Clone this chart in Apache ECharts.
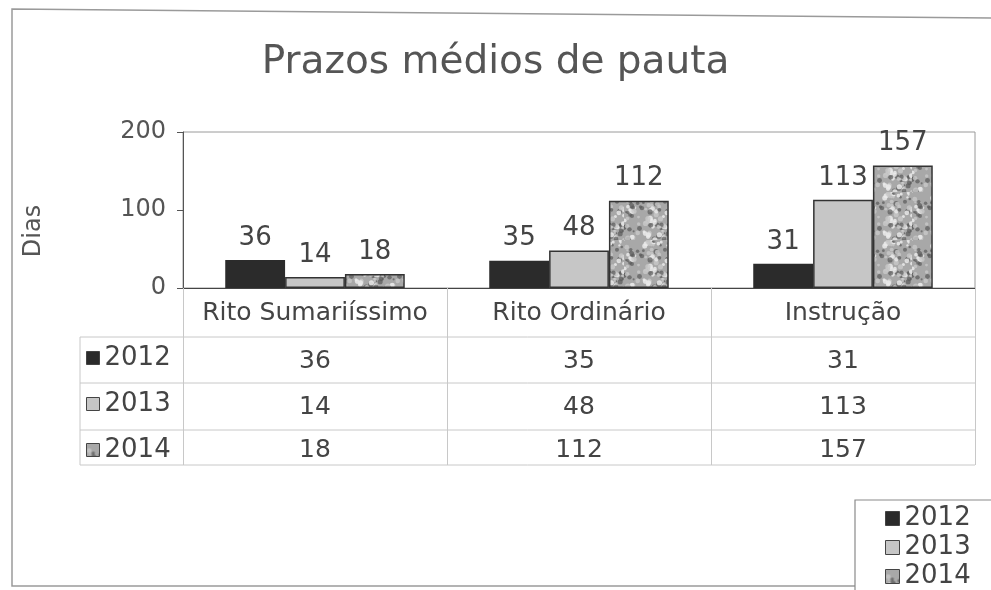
<!DOCTYPE html>
<html><head><meta charset="utf-8">
<script src="https://cdn.jsdelivr.net/npm/echarts@6/dist/echarts.min.js"></script>
<style>html,body{margin:0;padding:0;background:#fff}#c{width:991px;height:590px}</style>
</head><body><div id="c"></div>
<script>
var categories = ['Rito Sumariíssimo', 'Rito Ordinário', 'Instrução'];
var years = ['2012', '2013', '2014'];
var values2012 = [36, 35, 31];
var values2013 = [14, 48, 113];
var values2014 = [18, 112, 157];
var yTicks = [0, 100, 200];
var titleText = 'Prazos médios de pauta';
var yAxisName = 'Dias';

function makeTexture() {
  var c = document.createElement('canvas');
  c.width = 48; c.height = 48;
  var g = c.getContext('2d');
  g.fillStyle = '#a8a8a8';
  g.fillRect(0, 0, 48, 48);
  for (var i = 0; i < 120; i++) {
    var x = (Math.abs(Math.sin(i * 12.9898) * 43758.5453) % 1) * 48;
    var y = (Math.abs(Math.sin(i * 78.233) * 12345.678) % 1) * 48;
    var r = 0.8 + (Math.abs(Math.sin(i * 3.7)) * 1.8);
    g.fillStyle = i % 3 === 0 ? 'rgba(235,235,235,0.85)' : (i % 3 === 1 ? 'rgba(90,90,90,0.7)' : 'rgba(200,200,200,0.8)');
    g.beginPath(); g.arc(x, y, r, 0, Math.PI * 2); g.fill();
  }
  return c;
}
var texture = makeTexture();

var font = 'DejaVu Sans';
var chart = echarts.init(document.getElementById('c'), null, {renderer: 'canvas'});

var labelCfg = {show: true, position: 'top', distance: 9, fontFamily: font, fontSize: 26, color: '#444'};
var seriesColors = ['#2b2b2b', '#c6c6c6', {image: texture, repeat: 'repeat'}];
var seriesData = [values2012, values2013, values2014];

var series = years.map(function (y, i) {
  return {
    name: y, type: 'bar', data: seriesData[i],
    barGap: '0%', barCategoryGap: '32%',
    itemStyle: {color: seriesColors[i], borderColor: '#333', borderWidth: i === 0 ? 0 : 1.5},
    label: labelCfg
  };
});

var legendText = {fontFamily: font, fontSize: 26, color: '#444'};

chart.setOption({
  animation: false,
  backgroundColor: '#fff',
  title: {text: titleText, left: 'center', top: 38,
    textStyle: {fontFamily: font, fontSize: 39, fontWeight: 'normal', color: '#555'}},
  grid: {left: 183, right: 16, top: 132, bottom: 302, show: true, borderColor: '#9a9a9a', borderWidth: 1},
  legend: [
    {data: years, orient: 'vertical', left: 86, top: 343, height: 130, itemGap: 16, itemWidth: 13, itemHeight: 13,
      icon: 'rect', itemStyle: {borderColor: '#444', borderWidth: 1},
      textStyle: Object.assign({lineHeight: 30}, legendText), padding: 0, selectedMode: false},
    {data: years, orient: 'vertical', left: 885, top: 504, height: 120, itemGap: 0, itemWidth: 14, itemHeight: 14,
      icon: 'rect', itemStyle: {borderColor: '#444', borderWidth: 1},
      textStyle: Object.assign({lineHeight: 29}, legendText), padding: 0, selectedMode: false}
  ],
  xAxis: {
    type: 'category', data: categories,
    axisLine: {lineStyle: {color: '#444', width: 1.2}},
    axisTick: {show: true, length: 177, lineStyle: {color: '#c8c8c8'}, alignWithLabel: false},
    axisLabel: {fontFamily: font, fontSize: 25, color: '#444', margin: 13, interval: 0}
  },
  yAxis: {
    type: 'value', min: yTicks[0], max: yTicks[yTicks.length - 1], interval: 100,
    axisLine: {show: true, lineStyle: {color: '#555'}},
    axisTick: {show: true, length: 6, lineStyle: {color: '#555'}},
    splitLine: {show: false},
    axisLabel: {fontFamily: font, fontSize: 24, color: '#555', margin: 17}
  },
  series: series
});

// data table built from arrays, positioned on the category axis
var rowY = [361, 407, 450];
var lineY = [337, 383, 430, 465];
var gfx = [];
var step = chart.convertToPixel({xAxisIndex: 0}, 1) - chart.convertToPixel({xAxisIndex: 0}, 0);
var right = chart.convertToPixel({xAxisIndex: 0}, categories.length - 1) + step / 2;
lineY.forEach(function (y) {
  gfx.push({type: 'line', shape: {x1: 80, y1: y, x2: right, y2: y}, style: {stroke: '#c8c8c8', lineWidth: 1}, silent: true});
});
gfx.push({type: 'line', shape: {x1: 80, y1: lineY[0], x2: 80, y2: lineY[lineY.length - 1]}, style: {stroke: '#c8c8c8', lineWidth: 1}, silent: true});
seriesData.forEach(function (arr, r) {
  arr.forEach(function (v, c) {
    var x = chart.convertToPixel({xAxisIndex: 0}, c);
    gfx.push({type: 'text', x: x, y: rowY[r], silent: true,
      style: {text: String(v), fontFamily: font, fontSize: 25, fill: '#444', align: 'center', verticalAlign: 'middle'}});
  });
});
// y axis name
gfx.push({type: 'text', x: 34, y: 231, rotation: Math.PI / 2, silent: true,
  style: {text: yAxisName, fontFamily: font, fontSize: 24, fill: '#555', align: 'center', verticalAlign: 'middle'}});
// outer frame and legend box
gfx.push({type: 'polyline', shape: {points: [[855, 586], [12, 586], [12, 9], [991, 18]]}, style: {stroke: '#9a9a9a', lineWidth: 1.5, fill: null}, silent: true});
gfx.push({type: 'rect', shape: {x: 855, y: 500, width: 160, height: 120}, style: {stroke: '#8a8a8a', lineWidth: 1.2, fill: null}, silent: true});
chart.setOption({graphic: gfx});
</script>
</body></html>
